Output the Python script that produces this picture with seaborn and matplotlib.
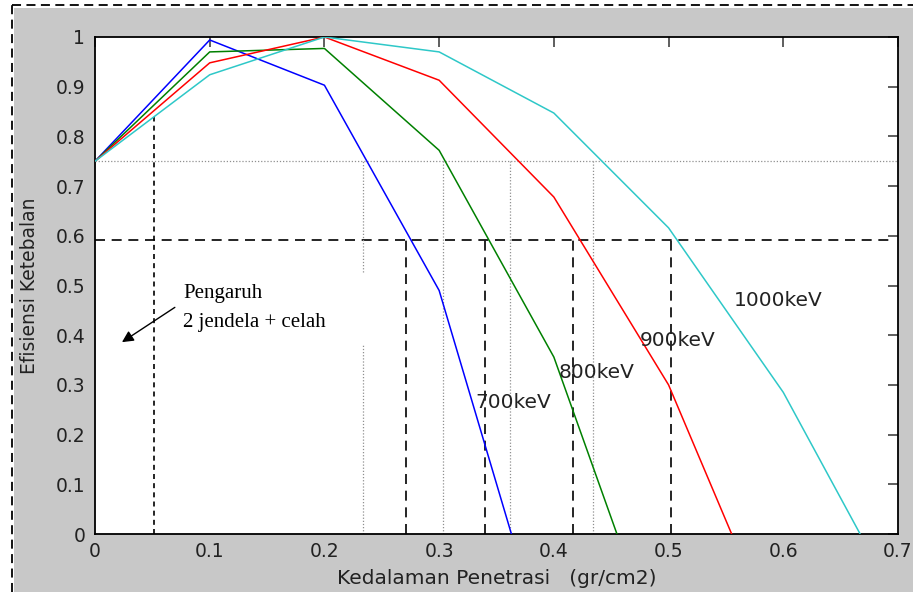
import numpy as np
import pandas as pd
import matplotlib
matplotlib.use("Agg")
import matplotlib.pyplot as plt
from matplotlib.patches import Rectangle
from matplotlib.lines import Line2D
import seaborn as sns

# ---- data ----
energies = ["700keV", "800keV", "900keV", "1000keV"]
x_700 = [0.0, 0.1, 0.2, 0.3, 0.363]
y_700 = [0.75, 0.994, 0.903, 0.49, 0.0]
x_800 = [0.0, 0.1, 0.2, 0.3, 0.4, 0.455]
y_800 = [0.75, 0.970, 0.977, 0.772, 0.356, 0.0]
x_900 = [0.0, 0.1, 0.2, 0.3, 0.4, 0.5, 0.555]
y_900 = [0.75, 0.948, 1.0, 0.913, 0.678, 0.30, 0.0]
x_1000 = [0.0, 0.1, 0.2, 0.3, 0.4, 0.5, 0.6, 0.667]
y_1000 = [0.75, 0.924, 1.0, 0.970, 0.847, 0.616, 0.285, 0.0]
line_colors = ["#0000ff", "#008000", "#ff0000", "#2ec8c8"]

label_x = [0.332, 0.404, 0.475, 0.557]
label_y = [0.264, 0.324, 0.390, 0.469]

x_ticks = [0, 0.1, 0.2, 0.3, 0.4, 0.5, 0.6, 0.7]
x_ticklabels = ["0", "0.1", "0.2", "0.3", "0.4", "0.5", "0.6", "0.7"]
y_ticks = [0, 0.1, 0.2, 0.3, 0.4, 0.5, 0.6, 0.7, 0.8, 0.9, 1.0]
y_ticklabels = ["0", "0.1", "0.2", "0.3", "0.4", "0.5", "0.6", "0.7", "0.8", "0.9", "1"]

ref_hline_dash = 0.592
ref_hline_dot = 0.75
dash_vx = [0.271, 0.340, 0.417, 0.502]
dash_v_first = 0.0513
dash_v_first_top = 0.839
dot_vx = [0.3035, 0.362, 0.434]
dot_v_split_x = 0.234
dot_v_split_gap = [0.38, 0.527]

xs = [x_700, x_800, x_900, x_1000]
ys = [y_700, y_800, y_900, y_1000]
df = pd.concat([pd.DataFrame({"x": xx, "y": yy, "energy": e})
                for e, xx, yy in zip(energies, xs, ys)], ignore_index=True)

sns.set_style("white")
plt.rcParams["font.family"] = ["DejaVu Sans"]

W, H = 913, 592
fig = plt.figure(figsize=(W / 100, H / 100), dpi=100)
fig.patch.set_facecolor("white")
fig.patches.append(Rectangle((14 / W, 0), 1, 1 - 8 / H, transform=fig.transFigure,
                             facecolor="#c8c8c8", edgecolor="none", zorder=-5))
fig.lines.append(Line2D([12 / W, 12 / W], [0, 1 - 5 / H], transform=fig.transFigure,
                        color="black", lw=1.3, dashes=(5, 3)))
fig.lines.append(Line2D([12 / W, 1], [1 - 5 / H, 1 - 5 / H], transform=fig.transFigure,
                        color="black", lw=1.3, dashes=(5, 3)))

ax = fig.add_axes([95 / W, 1 - 534 / H, (898 - 95) / W, (534 - 37) / H])
ax.set_facecolor("white")

# reference lines
ax.axhline(ref_hline_dot, color="#909090", lw=0.9, ls=(0, (1, 1.5)), zorder=1)
ax.axhline(ref_hline_dash, xmax=0.993, color="black", lw=1.2, ls=(0, (6, 4)), zorder=1)
for xv in dot_vx:
    ax.plot([xv, xv], [0, ref_hline_dot], color="#909090", lw=0.9, ls=(0, (1, 1.5)), zorder=1)
ax.plot([dot_v_split_x] * 2, [0, dot_v_split_gap[0]], color="#909090", lw=0.9, ls=(0, (1, 1.5)), zorder=1)
ax.plot([dot_v_split_x] * 2, [dot_v_split_gap[1], ref_hline_dot], color="#909090", lw=0.9, ls=(0, (1, 1.5)), zorder=1)
for xv in dash_vx:
    ax.plot([xv, xv], [0, ref_hline_dash], color="black", lw=1.2, ls=(0, (6, 4)), zorder=1)
ax.plot([dash_v_first] * 2, [0, dash_v_first_top], color="black", lw=1.2, ls=(0, (3, 2.5)), zorder=1)

sns.lineplot(data=df, x="x", y="y", hue="energy", hue_order=energies,
             palette=line_colors, sort=False, estimator=None, units="energy",
             legend=False, lw=1.1, ax=ax, zorder=3)

for lab, lx, ly in zip(energies, label_x, label_y):
    ax.text(lx, ly, lab, fontsize=14.5, color="#222222", ha="left", va="center", zorder=4)

ax.text(0.077, 0.484, "Pengaruh", family="Liberation Serif", fontsize=15,
        color="black", ha="left", va="center")
ax.text(0.077, 0.426, "2 jendela + celah", family="Liberation Serif", fontsize=15,
        color="black", ha="left", va="center")
ax.annotate("", xy=(0.0235, 0.386), xytext=(0.0696, 0.456),
            arrowprops=dict(arrowstyle="-|>", color="black", lw=1.0,
                            mutation_scale=17, shrinkA=0, shrinkB=0))

ax.set_xlim(0, 0.7)
ax.set_ylim(0, 1)
ax.set_xticks(x_ticks)
ax.set_xticklabels(x_ticklabels)
ax.set_yticks(y_ticks)
ax.set_yticklabels(y_ticklabels)
ax.tick_params(direction="in", top=True, right=True, length=7, width=1.1,
               labelsize=13.5, labelcolor="#222222", color="#333333")
ax.tick_params(axis="x", pad=6)
ax.tick_params(axis="y", pad=7)
for s in ax.spines.values():
    s.set_color("black")
    s.set_linewidth(1.3)
    s.set_visible(True)

ax.set_xlabel("Kedalaman Penetrasi   (gr/cm2)", fontsize=14.5, color="#222222")
ax.set_ylabel("Efisiensi Ketebalan", fontsize=13.5, color="#222222")
ax.xaxis.set_label_coords(0.5, -(578 - 534) / (534 - 37), transform=ax.transAxes)
ax.yaxis.set_label_coords(-(95 - 29) / (898 - 95), 0.5, transform=ax.transAxes)
ax.xaxis.label.set_va("center")
ax.yaxis.label.set_va("center")

fig.savefig("out.png", dpi=100, facecolor=fig.get_facecolor())
